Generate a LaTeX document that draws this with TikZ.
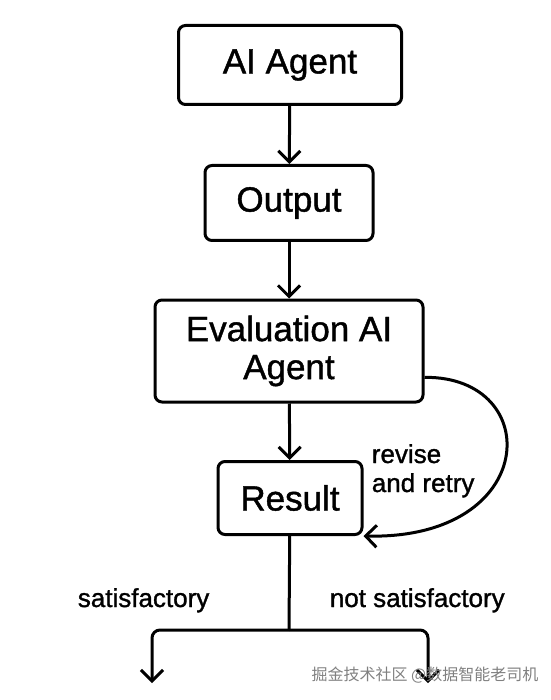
\documentclass[tikz,border=0pt]{standalone}
\usepackage{fontspec}
\setmainfont{Liberation Sans}[RawFeature={embolden=1.2}]
\newfontfamily\cjk{Noto Sans CJK SC}
\usetikzlibrary{arrows.meta,positioning}

\begin{document}
\begin{tikzpicture}[x=1pt, y=-1pt, line width=3pt,
        box/.style={draw, rounded corners=7pt, align=center, inner sep=0pt, font=\fontsize{35}{38}\selectfont},
        flow/.style={-{Straight Barb[length=11pt,width=22pt]}},
        lbl/.style={font=\fontsize{26}{29}\selectfont, align=left}]
        \useasboundingbox (0,0) rectangle (550,700);

        \node[box, minimum width=223pt, minimum height=79pt] (agent) at (290,65) {AI Agent};
        \node[box, minimum width=168pt, minimum height=75pt] (output) at (289,203) {Output};
        \node[box, minimum width=268pt, minimum height=102pt] (eval) at (289,351) {Evaluation AI\\Agent};
        \node[box, minimum width=144pt, minimum height=73pt] (result) at (290,498) {Result};

        \coordinate (fork) at (289,630);
        \coordinate (sat) at (152,683);
        \coordinate (notsat) at (428,683);

        \draw[flow] (agent) -- (output);
        \draw[flow] (output) -- (eval);
        \draw[flow] (eval) -- (result);
        \draw (result) -- (fork);
        \draw[flow, rounded corners=8pt] (fork) -| (sat);
        \draw[flow, rounded corners=8pt] (fork) -| (notsat);
        \draw[flow] (eval.-11) .. controls (545,376) and (540,540) .. (result.south east);

        \node[lbl, anchor=base west] (retry) at (367,492) {revise\\and retry};
        \node[lbl, anchor=base west] (yes) at (73,607) {satisfactory};
        \node[lbl, anchor=base west] (no) at (325,607) {not satisfactory};
        \node[font=\cjk\fontsize{16}{16}\selectfont, text=gray] (mark) at (425,675) {掘金技术社区 @数据智能老司机};
\end{tikzpicture}
\end{document}
